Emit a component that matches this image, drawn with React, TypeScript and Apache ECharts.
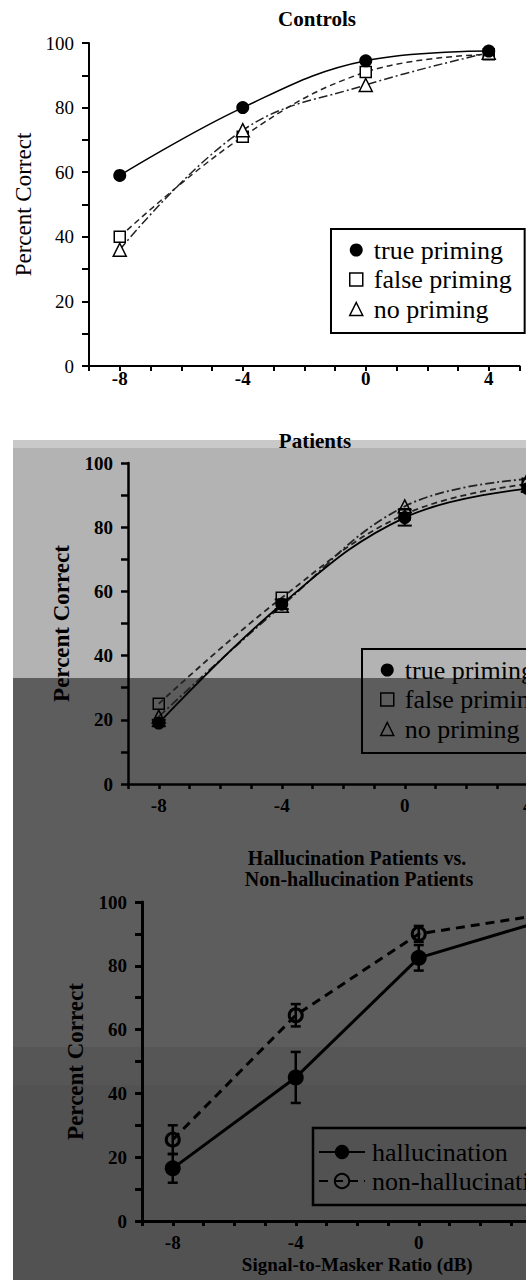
import React, { useEffect, useRef } from "react";
import * as echarts from "echarts";

const snr = [-8, -4, 0, 4];
const tickLabels = [-8, -4, 0, 4];
const ctrlTrue = [59, 80, 94.5, 97.5];
const ctrlFalse = [40, 71, 91, 96.5];
const ctrlNone = [36, 73, 87, 97];
const patTrue = [19, 56, 83, 92];
const patFalse = [25, 58, 84, 93.5];
const patNone = [21, 55.5, 86.5, 95];
const patTrueErr = [1, 1.5, 2.5, 1];
const halMean = [16.5, 45, 82.5, 94];
const halErr = [4.5, 8, 4, 3];
const nonMean = [25.5, 64.5, 90, 96];
const nonErr = [4.5, 3.5, 2.5, 2];

const FONT = '"Liberation Serif", "Times New Roman", serif';

const pts = (ys: number[]) => snr.map((x, i) => [x, ys[i]]);
const errData = (ys: number[], es: number[]) =>
  snr.map((x, i) => [x, ys[i] - es[i], ys[i] + es[i]]);

function errorBar(xi: number, ys: number[], es: number[], width: number, cap: number) {
  return {
    type: "custom",
    xAxisIndex: xi,
    yAxisIndex: xi,
    z: 1,
    silent: true,
    encode: { x: 0, y: [1, 2] },
    data: errData(ys, es),
    renderItem: (params: any, api: any) => {
      const x = api.value(0);
      const lo = api.coord([x, api.value(1)]);
      const hi = api.coord([x, api.value(2)]);
      const st = { stroke: "#000", lineWidth: width };
      return {
        type: "group",
        children: [
          { type: "line", shape: { x1: lo[0], y1: lo[1], x2: hi[0], y2: hi[1] }, style: st },
          { type: "line", shape: { x1: lo[0] - cap, y1: lo[1], x2: lo[0] + cap, y2: lo[1] }, style: st },
          { type: "line", shape: { x1: hi[0] - cap, y1: hi[1], x2: hi[0] + cap, y2: hi[1] }, style: st },
        ],
      };
    },
  };
}

function xAxis(i: number, lw: number, margin: number) {
  return {
    type: "value",
    gridIndex: i,
    min: -9,
    max: 5,
    interval: 1,
    axisLine: { show: true, onZero: false, lineStyle: { color: "#000", width: lw } },
    axisTick: { show: true, length: 5, lineStyle: { color: "#000", width: lw } },
    splitLine: { show: false },
    axisLabel: {
      margin,
      color: "#000",
      fontFamily: FONT,
      fontSize: 19,
      fontWeight: "bold",
      formatter: (v: number) => (tickLabels.indexOf(v) >= 0 ? String(v) : ""),
    },
  };
}

function yAxis(i: number, lw: number, gap: number, bold: boolean) {
  return {
    type: "value",
    gridIndex: i,
    min: 0,
    max: 100,
    interval: 10,
    axisLine: { show: true, onZero: false, lineStyle: { color: "#000", width: lw } },
    axisTick: { show: true, length: 7, lineStyle: { color: "#000", width: lw } },
    splitLine: { show: false },
    axisLabel: {
      margin: 15,
      color: "#000",
      fontFamily: FONT,
      fontSize: 19,
      fontWeight: bold ? "bold" : "normal",
      formatter: (v: number) => (v % 20 === 0 ? String(v) : ""),
    },
    name: "Percent Correct",
    nameLocation: "middle",
    nameRotate: 90,
    nameGap: gap,
    nameTextStyle: { color: "#000", fontFamily: FONT, fontSize: 23, fontWeight: bold ? "bold" : "normal" },
  };
}

function primingSeries(i: number, t: number[], f: number[], n: number[], openFill: string, lw: number) {
  return [
    {
      name: "true priming",
      type: "line",
      xAxisIndex: i,
      yAxisIndex: i,
      smooth: 0.4,
      data: pts(t),
      symbol: "circle",
      symbolSize: 13,
      itemStyle: { color: "#000" },
      lineStyle: { color: "#000", width: lw, type: "solid" },
      z: 4,
    },
    {
      name: "false priming",
      type: "line",
      xAxisIndex: i,
      yAxisIndex: i,
      smooth: 0.4,
      data: pts(f),
      symbol: "rect",
      symbolSize: 11,
      itemStyle: { color: openFill, borderColor: "#000", borderWidth: 1.5 },
      lineStyle: { color: "#222", width: lw, type: [6, 4] },
      z: 3,
    },
    {
      name: "no priming",
      type: "line",
      xAxisIndex: i,
      yAxisIndex: i,
      smooth: 0.4,
      data: pts(n),
      symbol: "triangle",
      symbolSize: 13,
      itemStyle: { color: openFill, borderColor: "#000", borderWidth: 1.5 },
      lineStyle: { color: "#222", width: lw, type: [9, 3, 2, 3] },
      z: 3,
    },
  ];
}

function primingLegend(left: number, top: number, fill: string) {
  return {
    orient: "vertical",
    left,
    top,
    padding: [8, 13, 11, 18],
    itemWidth: 13,
    itemHeight: 13,
    itemGap: 3.5,
    borderColor: "#000",
    borderWidth: 2,
    selectedMode: false,
    textStyle: { color: "#000", fontFamily: FONT, fontSize: 26, lineHeight: 26, padding: [0, 0, 0, 6] },
    data: [
      { name: "true priming", icon: "circle", itemStyle: { color: "#000" } },
      { name: "false priming", icon: "rect", itemStyle: { color: fill, borderColor: "#000", borderWidth: 1.5 } },
      { name: "no priming", icon: "triangle", itemStyle: { color: fill, borderColor: "#000", borderWidth: 1.5 } },
    ],
  };
}

export default function App() {
  const ref = useRef<HTMLDivElement>(null);
  useEffect(() => {
    if (!ref.current) return;
    const chart = echarts.init(ref.current, undefined, { renderer: "svg" });
    const titleStyle = { color: "#000", fontFamily: FONT, fontSize: 21, fontWeight: "bold", lineHeight: 21 };
    const title3Style = { ...titleStyle, fontSize: 20, lineHeight: 20 };
    const bg = (y: number, h: number, fill: string) => ({
      type: "rect",
      z: -10,
      silent: true,
      shape: { x: 13, y, width: 600, height: h },
      style: { fill },
    });
    chart.setOption({
      animation: false,
      backgroundColor: "transparent",
      graphic: {
        elements: [
          bg(440, 8, "#c9c9c9"),
          bg(448, 230, "#b3b3b3"),
          bg(678, 369, "#5d5d5d"),
          bg(1047, 38, "#565656"),
          bg(1085, 195, "#525252"),
        ],
      },
      title: [
        { text: "Controls", left: 317, top: 8, padding: 0, textAlign: "center", textStyle: titleStyle },
        { text: "Patients", left: 315, top: 430, padding: 0, textAlign: "center", textStyle: titleStyle },
        { text: "Hallucination Patients vs.", left: 357, top: 848, padding: 0, textAlign: "center", textStyle: title3Style },
        { text: "Non-hallucination Patients", left: 359, top: 869, padding: 0, textAlign: "center", textStyle: title3Style },
      ],
      grid: [
        { left: 89, top: 43, width: 430.5, height: 323 },
        { left: 128, top: 463, width: 430.5, height: 321 },
        { left: 142, top: 902, width: 430.5, height: 319 },
      ],
      xAxis: [
        xAxis(0, 2, 3),
        xAxis(1, 2.5, 12),
        {
          ...xAxis(2, 3, 12),
          name: "Signal-to-Masker Ratio (dB)",
          nameLocation: "middle",
          nameGap: 34,
          nameTextStyle: { color: "#000", fontFamily: FONT, fontSize: 19, fontWeight: "bold" },
        },
      ],
      yAxis: [yAxis(0, 2, 52, false), yAxis(1, 2.5, 55, true), yAxis(2, 3, 55, true)],
      legend: [
        primingLegend(331, 229, "#fff"),
        primingLegend(362, 649, "rgba(0,0,0,0)"),
        {
          orient: "vertical",
          left: 313,
          top: 1128,
          padding: [11, 13, 11, 5],
          itemWidth: 46,
          itemHeight: 18,
          itemGap: 3,
          borderColor: "#000",
          borderWidth: 2.5,
          selectedMode: false,
          textStyle: { color: "#000", fontFamily: FONT, fontSize: 26, lineHeight: 26, padding: [0, 0, 0, 2] },
          data: ["hallucination", "non-hallucination"],
        },
      ],
      series: [
        ...primingSeries(0, ctrlTrue, ctrlFalse, ctrlNone, "#fff", 1.5),
        errorBar(1, patTrue, patTrueErr, 2, 7),
        ...primingSeries(1, patTrue, patFalse, patNone, "rgba(0,0,0,0)", 1.8),
        errorBar(2, halMean, halErr, 2.5, 5),
        errorBar(2, nonMean, nonErr, 2.5, 5),
        {
          name: "hallucination",
          type: "line",
          xAxisIndex: 2,
          yAxisIndex: 2,
          data: pts(halMean),
          symbol: "circle",
          symbolSize: 16,
          itemStyle: { color: "#000" },
          lineStyle: { color: "#000", width: 3, type: "solid" },
          z: 4,
        },
        {
          name: "non-hallucination",
          type: "line",
          xAxisIndex: 2,
          yAxisIndex: 2,
          data: pts(nonMean),
          symbol: "circle",
          symbolSize: 13,
          itemStyle: { color: "rgba(0,0,0,0)", borderColor: "#000", borderWidth: 3 },
          lineStyle: { color: "#000", width: 3, type: [9, 6] },
          z: 3,
        },
      ],
    });
    return () => chart.dispose();
  }, []);
  return (
    <div
      style={{
        position: "fixed",
        left: 0,
        top: 0,
        width: 526,
        height: 1280,
        overflow: "hidden",
        background: "#fff",
      }}
    >
      <div ref={ref} style={{ width: 600, height: 1280 }} />
    </div>
  );
}
